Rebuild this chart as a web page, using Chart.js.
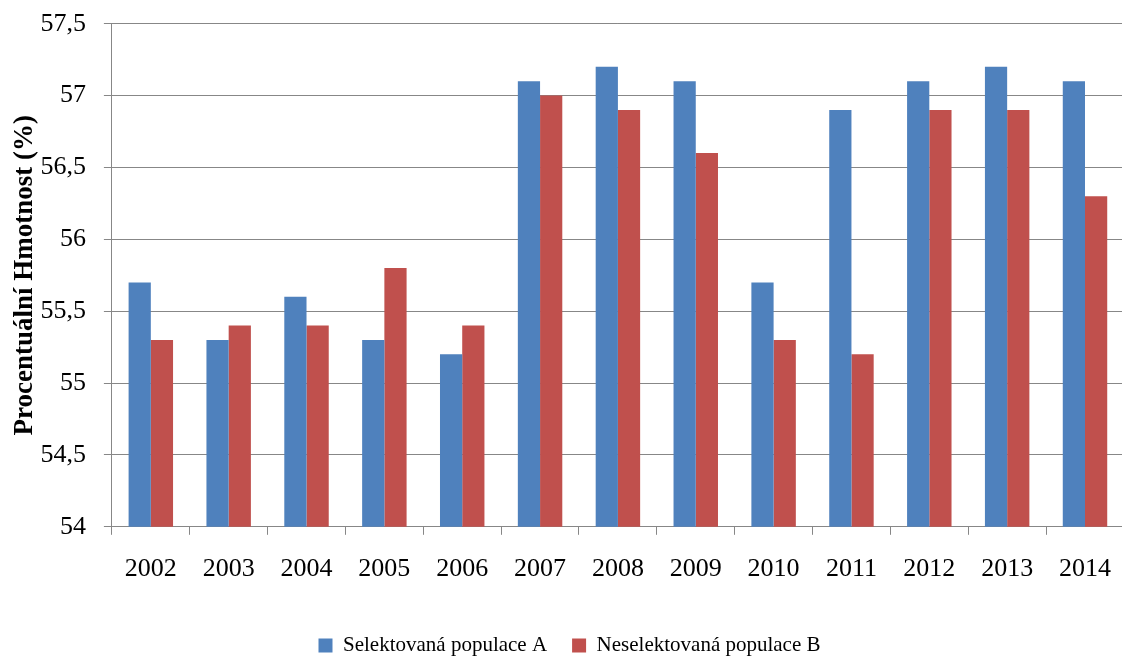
<!DOCTYPE html>
<html>
<head>
<meta charset="utf-8">
<script src="https://cdn.jsdelivr.net/npm/chart.js@4.4.1/dist/chart.umd.min.js"></script>
<style>
  html, body { margin: 0; padding: 0; background: #fff; overflow: hidden; }
  #wrap { position: relative; width: 1130px; height: 662px; }
</style>
</head>
<body>
<div id="wrap"><canvas id="c"></canvas></div>
<script>
// Roky (kategorie osy x)
const years = ['2002','2003','2004','2005','2006','2007','2008','2009','2010','2011','2012','2013','2014'];
// Procentuální hmotnost podle populace
const populaceA = [55.7, 55.3, 55.6, 55.3, 55.2, 57.1, 57.2, 57.1, 55.7, 56.9, 57.1, 57.2, 57.1];
const populaceB = [55.3, 55.4, 55.4, 55.8, 55.4, 57.0, 56.9, 56.6, 55.3, 55.2, 56.9, 56.9, 56.3];
// Rozsah a krok osy y
const yMin = 54, yMax = 57.5, yStep = 0.5;

const serif = "'Liberation Serif', 'Times New Roman', serif";
const gridGray = '#878787';

new Chart(document.getElementById('c'), {
  type: 'bar',
  data: {
    labels: years,
    datasets: [
      { label: 'Selektovaná populace A', data: populaceA, backgroundColor: '#4F81BD',
        categoryPercentage: 0.571, barPercentage: 1.0 },
      { label: 'Neselektovaná populace B', data: populaceB, backgroundColor: '#C0504D',
        categoryPercentage: 0.571, barPercentage: 1.0 }
    ]
  },
  options: {
    responsive: true,
    maintainAspectRatio: false,
    animation: false,
    layout: { padding: { top: 0, right: 0, bottom: -4, left: 9 } },
    plugins: {
      legend: {
        position: 'bottom',
        // empty title only reserves a little space above the legend row
        title: { display: true, text: '', font: { size: 5 }, padding: 0 },
        labels: {
          font: { family: serif, size: 21 },
          color: '#000',
          boxWidth: 14,
          boxHeight: 14,
          padding: 25
        }
      },
      tooltip: { enabled: false }
    },
    scales: {
      x: {
        grid: { display: true, drawOnChartArea: false, drawTicks: true, tickLength: 8,
                color: gridGray, lineWidth: 1, offset: true },
        border: { display: true, color: gridGray, width: 1 },
        ticks: { font: { family: serif, size: 26 }, color: '#000', padding: 19, maxRotation: 0 }
      },
      y: {
        min: yMin,
        max: yMax,
        grid: { color: gridGray, lineWidth: 1, drawTicks: true, tickLength: 8 },
        border: { display: true, color: gridGray, width: 1 },
        ticks: {
          stepSize: yStep,
          font: { family: serif, size: 26, lineHeight: 0.44 },
          color: '#000',
          padding: 18,
          callback: v => String(v).replace('.', ',')
        },
        title: {
          display: true,
          text: 'Procentuální Hmotnost (%)',
          font: { family: serif, size: 27, weight: 'bold' },
          color: '#000',
          padding: { top: 0, bottom: -19 }
        }
      }
    }
  }
});
</script>
</body>
</html>
